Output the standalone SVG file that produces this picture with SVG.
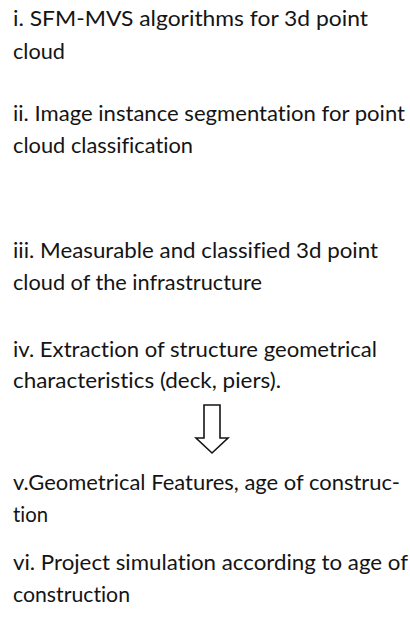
<svg xmlns="http://www.w3.org/2000/svg" width="410" height="622" viewBox="0 0 410 622">
<style>
.t{font-family:Lato,"Open Sans","Liberation Sans",sans-serif;font-size:21px;fill:#141414;font-variant-ligatures:none}
.arrow{fill:#fff;stroke:#141414;stroke-width:1.6;stroke-linejoin:miter}
</style>
<rect width="410" height="622" fill="#fff"/>
<g id="step1">
<text class="t" x="13" y="26" textLength="355" lengthAdjust="spacingAndGlyphs">i. SFM-MVS algorithms for 3d point</text>
<text class="t" x="13" y="59" textLength="52" lengthAdjust="spacingAndGlyphs">cloud</text>
</g>
<g id="step2">
<text class="t" x="13" y="121" textLength="392" lengthAdjust="spacingAndGlyphs">ii. Image instance segmentation for point</text>
<text class="t" x="13" y="153" textLength="180" lengthAdjust="spacingAndGlyphs">cloud classification</text>
</g>
<g id="step3">
<text class="t" x="13" y="258" textLength="365" lengthAdjust="spacingAndGlyphs">iii. Measurable and classified 3d point</text>
<text class="t" x="13" y="290" textLength="249" lengthAdjust="spacingAndGlyphs">cloud of the infrastructure</text>
</g>
<g id="step4">
<text class="t" x="13" y="357" textLength="364" lengthAdjust="spacingAndGlyphs">iv. Extraction of structure geometrical</text>
<text class="t" x="13" y="388" textLength="268" lengthAdjust="spacingAndGlyphs">characteristics (deck, piers).</text>
</g>
<g id="step5">
<text class="t" x="13" y="490" textLength="387" lengthAdjust="spacingAndGlyphs">v.Geometrical Features, age of construc-</text>
<text class="t" x="13" y="522" textLength="35" lengthAdjust="spacingAndGlyphs">tion</text>
</g>
<g id="step6">
<text class="t" x="13" y="570" textLength="395" lengthAdjust="spacingAndGlyphs">vi. Project simulation according to age of</text>
<text class="t" x="13" y="602" textLength="117" lengthAdjust="spacingAndGlyphs">construction</text>
</g>
<g id="connectors">
<path class="arrow" d="M204,405 H220 V438 H228 L212,453 L196,438 H204 Z"/>
</g>
</svg>
